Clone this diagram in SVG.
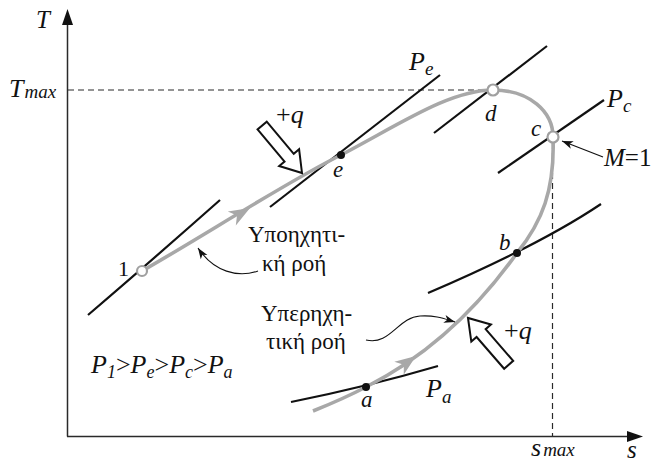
<svg xmlns="http://www.w3.org/2000/svg" width="658" height="464" viewBox="0 0 658 464">
<style>
.ax{stroke:#2a2a2a;stroke-width:1.5;fill:none}
.dash{stroke:#2a2a2a;stroke-width:1.2;stroke-dasharray:6,4;fill:none}
.iso{stroke:#111;stroke-width:2.2;fill:none;stroke-linecap:butt}
.flow{stroke:#a8a8a8;stroke-width:3.6;fill:none}
.lead{stroke:#111;stroke-width:1.1;fill:none}
text,tspan{font-family:'Liberation Serif','DejaVu Serif',serif}
.it{font-style:italic;fill:#111}
.rm{font-style:normal;fill:#111}
.blk{fill:#fff;stroke:#111;stroke-width:2;stroke-linejoin:miter}
.ga{fill:#a8a8a8}
.open{fill:#fff;stroke:#a0a0a0;stroke-width:2.2}
.dot{fill:#111}
</style>
<defs>
<marker id="ah" markerWidth="12" markerHeight="10" refX="11" refY="5" orient="auto" markerUnits="userSpaceOnUse">
<path d="M0,1 L11,5 L0,9 L3,5 Z" fill="#111"/>
</marker>
<polygon id="bigArrow" points="0,0 -20,-13 -20,-6 -62,-6 -62,6 -20,6 -20,13"/>
<polygon id="grayHead" points="0,0 -21,-8 -15,0 -21,8"/>
</defs>

<g id="axes">
<line class="ax" x1="67.5" y1="24" x2="67.5" y2="436.5"/>
<polygon points="67.5,9 62,25 73,25" fill="#111"/>
<line class="ax" x1="67" y1="436.5" x2="628" y2="436.5"/>
<polygon points="643,436.5 627,431 627,442" fill="#111"/>
<text class="it" x="36" y="28" font-size="25" font-family="Liberation Serif, DejaVu Serif, serif">T</text>
<text class="it" x="627" y="458" font-size="25" font-family="Liberation Serif, DejaVu Serif, serif">s</text>
<text class="it" x="9" y="97" font-size="26" font-family="Liberation Serif, DejaVu Serif, serif">T<tspan font-size="19" dx="1" dy="1">max</tspan></text>
<text class="it" x="531" y="456" font-size="26" font-family="Liberation Serif, DejaVu Serif, serif">s<tspan font-size="19" dx="2">max</tspan></text>
</g>

<g id="guides">
<line class="dash" x1="68" y1="90" x2="488" y2="90"/>
<line class="dash" x1="552.5" y1="143" x2="552.5" y2="436"/>
</g>

<g id="isobars">
<path class="iso" d="M88,315 Q150,262 220,200"/>
<path class="iso" d="M270,207 L440,75"/>
<path class="iso" d="M434,133 L547,46"/>
<path class="iso" d="M498,173 L604,100"/>
<path class="iso" d="M428,293 Q540,245 601,204"/>
<path class="iso" d="M291,402 Q370,386 438,366"/>
</g>

<g id="connectors">
<path class="flow" d="M142,271 C200,238 290,180 341,155 C400,124 450,90 493,90 C530,90 553,112 553,137 C555,190 542,222 517,253 C480,305 430,355 366,387 C345,398 328,405 313,411"/>
<use href="#grayHead" class="ga" transform="translate(250,208) rotate(-30)"/>
<use href="#grayHead" class="ga" transform="translate(416,356) rotate(-36)"/>
<path class="lead" d="M603,157 L562,141" marker-end="url(#ah)"/>
<path class="lead" d="M258,271 C238,278 214,272 198,248" marker-end="url(#ah)"/>
<path class="lead" d="M366,340 C390,346 398,317 420,316 C436,315 445,319 455,322" marker-end="url(#ah)"/>
</g>

<g id="heat-in">
<use href="#bigArrow" class="blk" transform="translate(302,173) rotate(50)"/>
<text class="rm" x="276" y="123" font-size="26" font-family="Liberation Serif, DejaVu Serif, serif">+<tspan class="it">q</tspan></text>
</g>
<g id="heat-in-2">
<use href="#bigArrow" class="blk" transform="translate(468,318) rotate(229)"/>
<text class="rm" x="504" y="339" font-size="26" font-family="Liberation Serif, DejaVu Serif, serif">+<tspan class="it">q</tspan></text>
</g>

<g id="node-1">
<circle class="open" cx="142" cy="271" r="5"/>
<text class="rm" x="118" y="276" font-size="22" font-family="Liberation Serif, DejaVu Serif, serif">1</text>
</g>
<g id="node-e">
<circle class="dot" cx="341" cy="155" r="4"/>
<text class="it" x="333" y="177" font-size="23" font-family="Liberation Serif, DejaVu Serif, serif">e</text>
</g>
<g id="node-d">
<circle class="open" cx="493" cy="90" r="5.5"/>
<text class="it" x="485" y="121" font-size="23" font-family="Liberation Serif, DejaVu Serif, serif">d</text>
</g>
<g id="node-c">
<circle class="open" cx="553" cy="137" r="5.5"/>
<text class="it" x="531" y="136" font-size="23" font-family="Liberation Serif, DejaVu Serif, serif">c</text>
</g>
<g id="node-b">
<circle class="dot" cx="517" cy="253" r="4"/>
<text class="it" x="499" y="250" font-size="23" font-family="Liberation Serif, DejaVu Serif, serif">b</text>
</g>
<g id="node-a">
<circle class="dot" cx="366" cy="387" r="4"/>
<text class="it" x="361" y="407" font-size="23" font-family="Liberation Serif, DejaVu Serif, serif">a</text>
</g>

<g id="labels">
<text class="it" x="409" y="70" font-size="26" font-family="Liberation Serif, DejaVu Serif, serif">P<tspan font-size="19" dy="5">e</tspan></text>
<text class="it" x="607" y="107" font-size="26" font-family="Liberation Serif, DejaVu Serif, serif">P<tspan font-size="19" dy="5">c</tspan></text>
<text class="it" x="426" y="397" font-size="26" font-family="Liberation Serif, DejaVu Serif, serif">P<tspan font-size="19" dy="6">a</tspan></text>
<text class="it" x="604" y="166" font-size="25" font-family="Liberation Serif, DejaVu Serif, serif">M<tspan class="rm">=1</tspan></text>
<text class="rm" font-size="23" font-family="Liberation Serif, DejaVu Serif, serif"><tspan x="248" y="242">Υποηχητι-</tspan><tspan x="262" y="271">κή ροή</tspan></text>
<text class="rm" font-size="23" font-family="Liberation Serif, DejaVu Serif, serif"><tspan x="261" y="321">Υπερηχη-</tspan><tspan x="266" y="349">τική ροή</tspan></text>
<text class="it" x="91" y="373" font-size="26" font-family="Liberation Serif, DejaVu Serif, serif">P<tspan font-size="18" dy="5">1</tspan><tspan class="rm" dy="-5">&gt;</tspan>P<tspan font-size="18" dy="5">e</tspan><tspan class="rm" dy="-5">&gt;</tspan>P<tspan font-size="18" dy="5">c</tspan><tspan class="rm" dy="-5">&gt;</tspan>P<tspan font-size="18" dy="5">a</tspan></text>
</g>
</svg>
